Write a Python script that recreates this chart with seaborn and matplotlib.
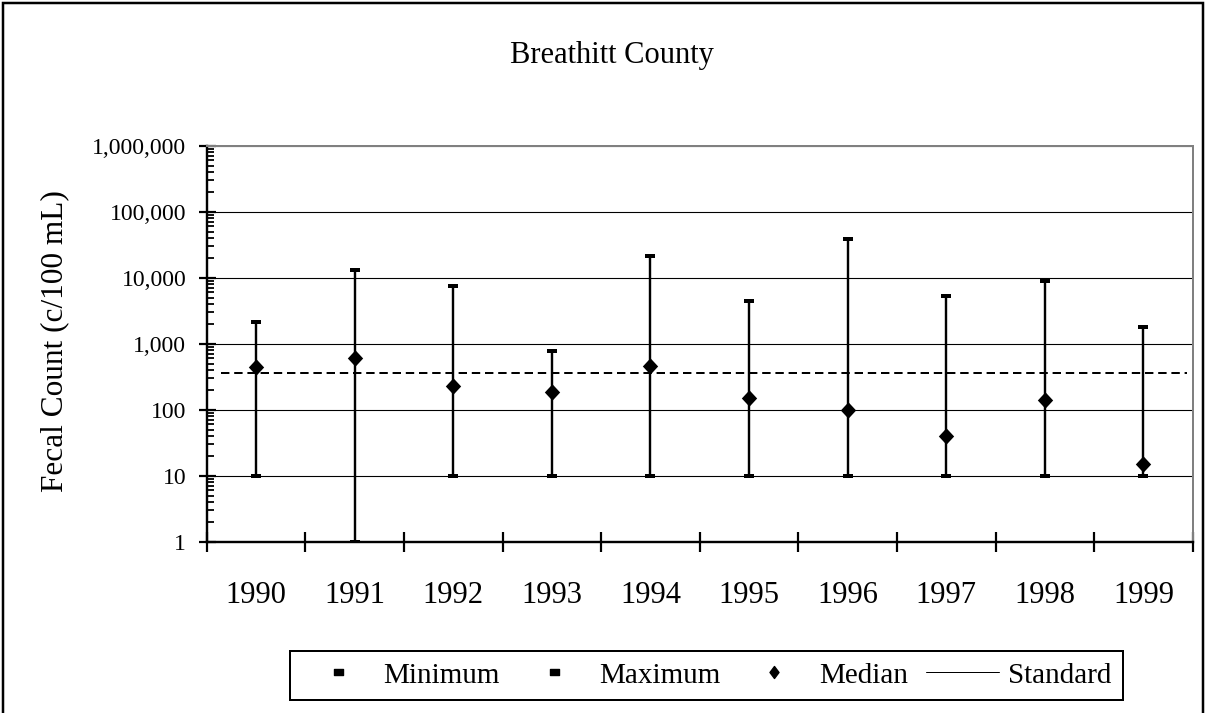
import numpy as np
import pandas as pd
import matplotlib
matplotlib.use("Agg")
import matplotlib.pyplot as plt
import seaborn as sns
from matplotlib.lines import Line2D
from matplotlib.path import Path
from matplotlib.patches import Rectangle
from matplotlib.ticker import FixedLocator, LogLocator, NullFormatter, FuncFormatter

# ---------------- data ----------------
years = ["1990", "1991", "1992", "1993", "1994", "1995", "1996", "1997", "1998", "1999"]
minimum = [10, 1, 10, 10, 10, 10, 10, 10, 10, 10]
maximum = [2100, 13000, 7600, 780, 21500, 4400, 39000, 5200, 9000, 1800]
median = [440, 610, 230, 185, 465, 150, 100, 40, 140, 15]
standard = 365
y_ticks = [1, 10, 100, 1000, 10000, 100000, 1000000]

title = "Breathitt County"
y_label = "Fecal Count (c/100 mL)"
legend_labels = ["Minimum", "Maximum", "Median", "Standard"]

# ---------------- style ----------------
sns.set_theme(style="white")
plt.rcParams["font.family"] = ["Liberation Serif", "DejaVu Serif"]
plt.rcParams["text.color"] = "black"
plt.rcParams["axes.labelcolor"] = "black"
plt.rcParams["xtick.color"] = "black"
plt.rcParams["ytick.color"] = "black"
plt.rcParams["xtick.labelcolor"] = "black"
plt.rcParams["ytick.labelcolor"] = "black"

df = pd.DataFrame({
    "pos": np.arange(len(years)),
    "year": years,
    "min": minimum,
    "max": maximum,
    "median": median,
})

PX = 72 / 100.0  # points per pixel at dpi 100

fig = plt.figure(figsize=(12.06, 7.13), dpi=100)
ax = fig.add_axes([206.7 / 1206, 1 - 541.7 / 713, 986 / 1206, 396 / 713])
ax.set_yscale("log")
ax.set_ylim(y_ticks[0], y_ticks[-1])
ax.set_xlim(-0.5, len(years) - 0.5)

# markers
dash_marker = Path([(-1, -0.38), (1, -0.38), (1, 0.38), (-1, 0.38), (-1, -0.38)],
                   [Path.MOVETO, Path.LINETO, Path.LINETO, Path.LINETO, Path.CLOSEPOLY])
diamond_marker = Path([(0, 1), (0.93, 0), (0, -1), (-0.93, 0), (0, 1)],
                      [Path.MOVETO, Path.LINETO, Path.LINETO, Path.LINETO, Path.CLOSEPOLY])
legend_diamond = Path([(0, 1), (0.75, 0), (0, -1), (-0.75, 0), (0, 1)],
                      [Path.MOVETO, Path.LINETO, Path.LINETO, Path.LINETO, Path.CLOSEPOLY])
legend_dash = Path([(-1, -0.6), (1, -0.6), (1, 0.6), (-1, 0.6), (-1, -0.6)],
                   [Path.MOVETO, Path.LINETO, Path.LINETO, Path.LINETO, Path.CLOSEPOLY])

# range lines
ax.vlines(df["pos"], df["min"], df["max"], color="black", lw=2.4 * PX, zorder=3)

sns.scatterplot(data=df, x="pos", y="min", marker=dash_marker, s=(10.5 * PX) ** 2,
                color="black", linewidth=0, ax=ax, zorder=4, legend=False)
sns.scatterplot(data=df, x="pos", y="max", marker=dash_marker, s=(10.5 * PX) ** 2,
                color="black", linewidth=0, ax=ax, zorder=4, legend=False)
sns.scatterplot(data=df, x="pos", y="median", marker=diamond_marker, s=(16.5 * PX) ** 2,
                color="black", linewidth=0, ax=ax, zorder=5, legend=False)

# standard line
ax.axhline(standard, xmin=0.014, xmax=0.994, color="black", lw=2 * PX,
           dashes=(4.2, 2.4), zorder=2)

# grid
ax.set_axisbelow(True)
ax.yaxis.grid(True, which="major", color="black", lw=1.1 * PX)
ax.xaxis.grid(False)

# spines
for side in ["left", "bottom"]:
    ax.spines[side].set_color("black")
    ax.spines[side].set_linewidth(2.4 * PX)
    ax.spines[side].set_zorder(6)
for side in ["top", "right"]:
    ax.spines[side].set_color("#808080")
    ax.spines[side].set_linewidth(2.0 * PX)
    ax.spines[side].set_zorder(6)

# y ticks
ax.yaxis.set_major_locator(FixedLocator(y_ticks))
ax.yaxis.set_major_formatter(FuncFormatter(lambda v, p: f"{int(round(v)):,}"))
ax.yaxis.set_minor_locator(LogLocator(base=10, subs=np.arange(2, 10)))
ax.yaxis.set_minor_formatter(NullFormatter())
ax.tick_params(axis="y", which="major", direction="inout", length=17 * PX,
               width=2.2 * PX, color="black", labelcolor="black", pad=12 * PX,
               labelsize=17, left=True)
ax.tick_params(axis="y", which="minor", direction="in", length=7 * PX,
               width=1.8 * PX, color="black", left=True)

# x ticks: boundaries as major, year labels on minor
ax.xaxis.set_major_locator(FixedLocator(np.arange(-0.5, len(years), 1.0)))
ax.xaxis.set_major_formatter(NullFormatter())
ax.xaxis.set_minor_locator(FixedLocator(df["pos"].values))
ax.xaxis.set_minor_formatter(FuncFormatter(lambda v, p: years[int(round(v))]))
ax.tick_params(axis="x", which="major", direction="inout", length=20 * PX,
               width=2.2 * PX, color="black", bottom=True)
ax.tick_params(axis="x", which="minor", length=0, pad=39 * PX, labelsize=22,
               labelcolor="black", bottom=True)

ax.set_xlabel("")
ax.set_ylabel("")

# texts
fig.text(611.7 / 1206, 1 - 55 / 713, title, ha="center", va="center", fontsize=22,
         color="black")
fig.text(55 / 1206, 1 - 341 / 713, y_label, ha="center", va="center",
         rotation=90, fontsize=22.5, color="black")

# legend
handles = [
    Line2D([], [], ls="none", marker=legend_dash, markersize=9 * PX, color="black"),
    Line2D([], [], ls="none", marker=legend_dash, markersize=9 * PX, color="black"),
    Line2D([], [], ls="none", marker=legend_diamond, markersize=12 * PX, color="black"),
    Line2D([], [], color="black", lw=1.0 * PX),
]
leg = fig.legend(handles, legend_labels, ncol=4, loc="center",
                 bbox_to_anchor=(706.4 / 1206, 1 - 675.5 / 713),
                 bbox_transform=fig.transFigure, fontsize=21, frameon=True,
                 fancybox=False, edgecolor="black", framealpha=1,
                 handlelength=2.5, handletextpad=0.3, columnspacing=0.6,
                 borderpad=0.4, numpoints=1, labelcolor="black")
leg.get_frame().set_linewidth(2 * PX)

# outer border of the chart area
fig.add_artist(Rectangle((2.5 / 1206, -0.2), 1200.5 / 1206, 1.2 - 2.5 / 713,
                         transform=fig.transFigure, fill=False, edgecolor="black",
                         lw=2.5 * PX, clip_on=False))

fig.savefig("out.png", dpi=100)
